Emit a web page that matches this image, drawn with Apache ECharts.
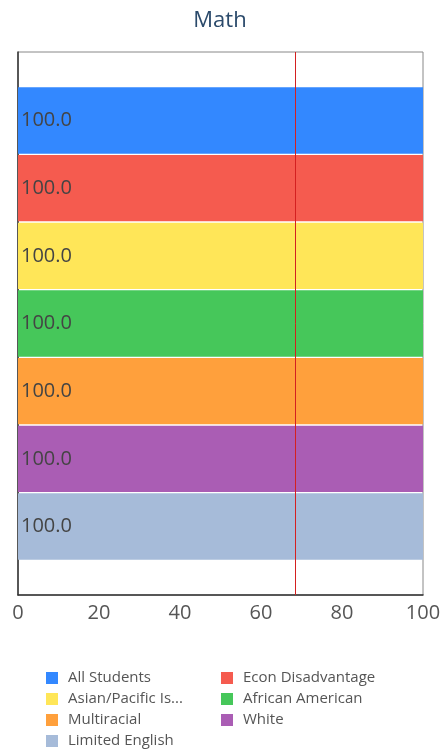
<!DOCTYPE html>
<html><head><meta charset="utf-8">
<script src="https://cdn.jsdelivr.net/npm/echarts@6/dist/echarts.min.js"></script>
<style>html,body{margin:0;padding:0;background:#fff}#c{width:440px;height:749px}</style>
</head><body><div id="c"></div>
<script>
const categories = ['Math'];
const seriesNames = ['All Students','Econ Disadvantage','Asian/Pacific Islander','African American','Multiracial','White','Limited English'];
const seriesValues = [100, 100, 100, 100, 100, 100, 100];
const seriesColors = ['#3388ff','#f55b4f','#ffe658','#46c75a','#ffa03c','#aa5db4','#a6bbd9'];
const referenceValue = 68.4;
const xTicks = [0, 20, 40, 60, 80, 100];

const FONT = 'Open Sans';
const series = seriesNames.map((n, i) => {
  const s = {
    name: n, type: 'bar', data: [seriesValues[i]],
    itemStyle: {color: seriesColors[i]},
    barGap: '2%', barCategoryGap: '13%',
    label: {show: true, position: 'insideLeft', distance: 3, formatter: p => p.value.toFixed(1),
      color: '#444', fontSize: 20, fontFamily: FONT}
  };
  if (i === 0) {
    s.markLine = {silent: true, symbol: 'none', label: {show: false},
      lineStyle: {color: '#d42020', width: 1, type: 'solid'},
      data: [{xAxis: referenceValue}]};
  }
  return s;
});

const chart = echarts.init(document.getElementById('c'));
chart.setOption({
  animation: false,
  title: {text: 'Math', left: 'center', top: 5, textStyle: {color: '#2b4a6b', fontSize: 22, fontWeight: 'normal', fontFamily: FONT}},
  grid: {left: 18, right: 17, top: 52, bottom: 154, show: true, borderColor: '#888', borderWidth: 1,
    containLabel: false, outerBoundsMode: 'none'},
  xAxis: {type: 'value', min: xTicks[0], max: xTicks[xTicks.length-1], interval: 20,
    axisLine: {show: true, lineStyle: {color: '#333', width: 1.5}}, axisTick: {show: false}, splitLine: {show: false},
    axisLabel: {color: '#555', fontSize: 20, fontFamily: FONT, margin: 8}},
  yAxis: {type: 'category', data: categories, inverse: true,
    axisLine: {show: true, lineStyle: {color: '#333', width: 1.5}}, axisTick: {show: false}, axisLabel: {show: false}},
  legend: {left: 46, top: 670, padding: 0, width: 390, itemWidth: 12, itemHeight: 12, itemGap: 5, icon: 'rect',
    formatter: n => n.length > 18 ? n.slice(0, 16) + '...' : n,
    textStyle: {color: '#555', fontSize: 15, fontFamily: FONT, width: 148, lineHeight: 16, padding: [0, 0, 0, 5]}},
  series: series
});
</script></body></html>
